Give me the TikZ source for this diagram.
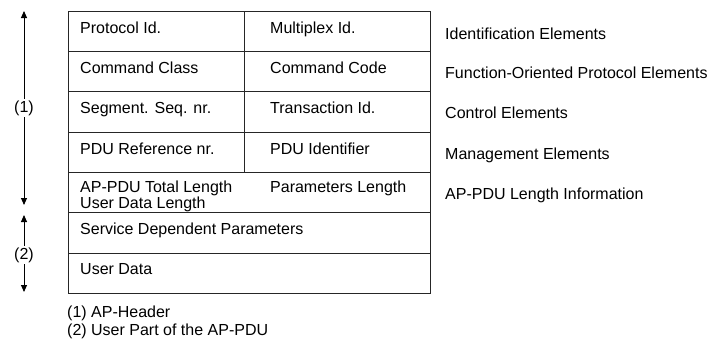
\documentclass[tikz,border=0pt]{standalone}
\usepackage{fontspec}
\setmainfont{Liberation Sans}
\usetikzlibrary{arrows.meta}
\begin{document}
\begin{tikzpicture}[x=1pt,y=-1pt,
  font=\fontsize{16}{16.5}\selectfont,
  grid/.style={line width=1pt,draw=black!85},
  txt/.style={anchor=base west,inner sep=0pt,align=left},
  tag/.style={inner sep=1.5pt,fill=white},
  span/.style={line width=0.9pt,-{Triangle[length=7pt,width=6pt]}}]
\useasboundingbox (0,0) rectangle (725,341);

% frame of the PDU layout
\draw[grid] (68,11) rectangle (430,293);
\foreach \y in {51.3,91.6,132,172.3,212.6,253}
  \draw[grid] (68,\y) -- (430,\y);
\draw[grid] (244,11) -- (244,172.3);

% field names
\node[txt] (pid)  at (80,33)    {Protocol Id.};
\node[txt] (mid)  at (270,33)   {Multiplex Id.};
\node[txt] (ccl)  at (80,73.3)  {Command Class};
\node[txt] (cco)  at (270,73.3) {Command Code};
\node[txt] (seg)  at (80,113.6) {Segment. Seq. nr.};
\node[txt] (tid)  at (270,113.6){Transaction Id.};
\node[txt] (pref) at (80,154)   {PDU Reference nr.};
\node[txt] (pidf) at (270,154)  {PDU Identifier};
% two-line cell: the base anchor sits on its last line
\node[txt] (tlen) at (80,208.5) {AP-PDU Total Length\\User Data Length};
\node[txt] (plen) at (270,192)  {Parameters Length};
\node[txt] (sdp)  at (80,234.6) {Service Dependent Parameters};
\node[txt] (ud)   at (80,274)   {User Data};

% element groups
\node[txt] (g1) at (445,39)  {Identification Elements};
\node[txt] (g2) at (445,78)  {Function-Oriented Protocol Elements};
\node[txt] (g3) at (445,118) {Control Elements};
\node[txt] (g4) at (445,159) {Management Elements};
\node[txt] (g5) at (445,199) {AP-PDU Length Information};

% extent of header and user part
\node[tag] (h1) at (24,108) {(1)};
\coordinate (h1t) at (24,11);
\coordinate (h1b) at (24,205);
\draw[span] (h1) -- (h1t);
\draw[span] (h1) -- (h1b);

\node[tag] (h2) at (24,255) {(2)};
\coordinate (h2t) at (24,215);
\coordinate (h2b) at (24,292);
\draw[span] (h2) -- (h2t);
\draw[span] (h2) -- (h2b);

% legend
\node[txt] (n1) at (67,317) {(1) AP-Header};
\node[txt] (n2) at (67,335) {(2) User Part of the AP-PDU};
\end{tikzpicture}
\end{document}
